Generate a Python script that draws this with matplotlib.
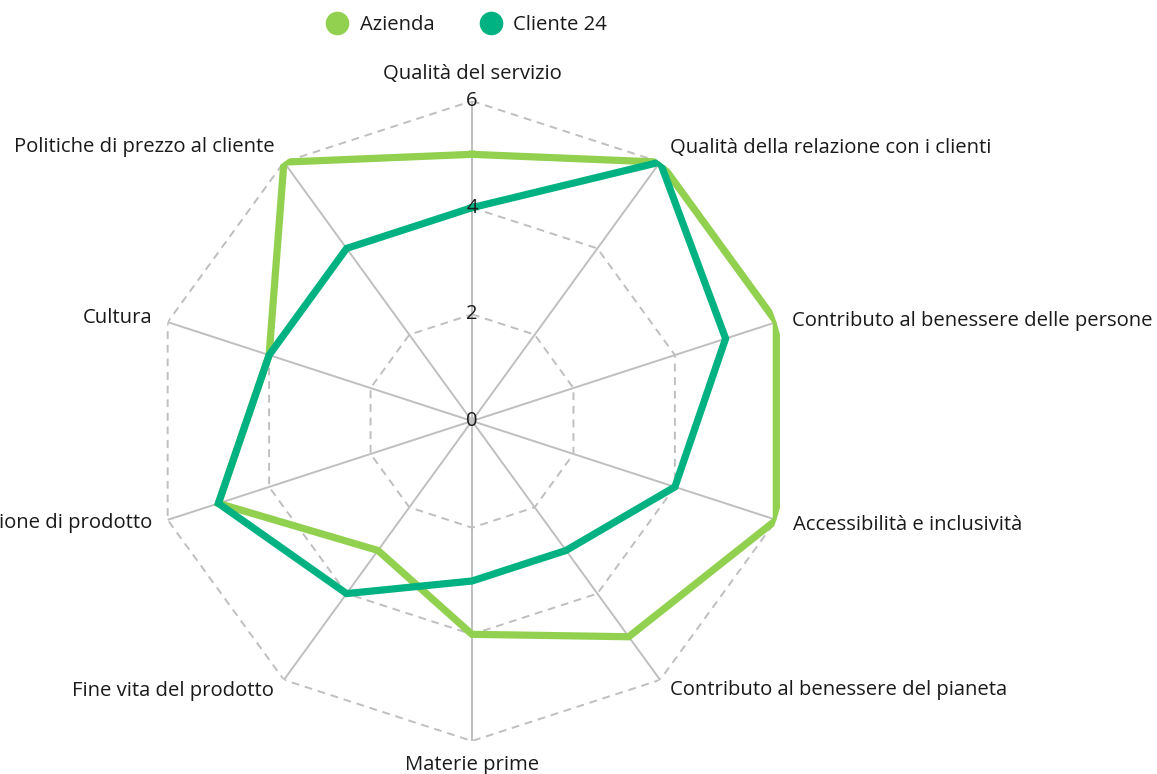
import numpy as np
import matplotlib
matplotlib.use("Agg")
import matplotlib.pyplot as plt
from matplotlib.lines import Line2D

plt.rcParams['font.family'] = ['Open Sans', 'DejaVu Sans']

categories = [
    "Qualità del servizio",
    "Qualità della relazione con i clienti",
    "Contributo al benessere delle persone",
    "Accessibilità e inclusività",
    "Contributo al benessere del pianeta",
    "Materie prime",
    "Fine vita del prodotto",
    "Progettazione di prodotto",
    "Cultura",
    "Politiche di prezzo al cliente",
]
azienda = [5, 6, 6, 6, 5, 4, 3, 5, 4, 6]
cliente = [4, 6, 5, 4, 3, 3, 4, 5, 4, 4]
series_names = ["Azienda", "Cliente 24"]
ring_ticks = [0, 2, 4, 6]

col_az = "#92D050"
col_cl = "#00B281"
grid_col = "#BFBFBF"
txt_col = "#1A1A1A"

W, H = 1157, 774
fig = plt.figure(figsize=(W / 100, H / 100), dpi=100)
cx, cy, R = 472, 421, 320
ax = fig.add_axes([(cx - R) / W, (H - cy - R) / H, 2 * R / W, 2 * R / H], projection='polar')
ax.set_theta_zero_location('N')
ax.set_theta_direction(-1)
ax.set_ylim(0, 6)
ax.grid(False)
ax.spines['polar'].set_visible(False)
ax.set_xticks([])
ax.set_yticks([])
ax.patch.set_alpha(0)

n = len(categories)
angles = np.linspace(0, 2 * np.pi, n, endpoint=False)
closed = np.append(angles, angles[0])

# spokes
for a in angles:
    ax.plot([a, a], [0, 6], color=grid_col, lw=1.4, zorder=1)
# rings
for r in ring_ticks[1:]:
    ax.plot(closed, [r] * (n + 1), color=grid_col, lw=1.4, ls=(0, (4, 3)), zorder=1)

def close(v):
    return list(v) + [v[0]]

ax.plot(closed, close(azienda), color=col_az, lw=5.2, zorder=3, solid_joinstyle='miter')
ax.plot(closed, close(cliente), color=col_cl, lw=5.2, zorder=4, solid_joinstyle='miter')

for r in ring_ticks:
    ax.text(0, r, str(r), ha='center', va='center', fontsize=14.5, color=txt_col, zorder=6)

offsets = [
    (0, 27, 'center'),
    (10, 14, 'left'),
    (16, 1, 'left'),
    (17, -5, 'left'),
    (10, -10, 'left'),
    (0, -24, 'center'),
    (-10, -11, 'right'),
    (-15, -3, 'right'),
    (-15, 4, 'right'),
    (-9, 15, 'right'),
]
for a, lab, (dx, dy, ha) in zip(angles, categories, offsets):
    ax.annotate(lab, xy=(a, 6), xytext=(dx, dy), textcoords='offset pixels',
                ha=ha, va='center', fontsize=14.6, color=txt_col, annotation_clip=False)

handles = [Line2D([], [], ls='none', marker='o', markersize=16, color=c) for c in (col_az, col_cl)]
leg = fig.legend(handles, series_names, loc='center', bbox_to_anchor=(462 / W, 1 - 25 / H),
                 ncol=2, frameon=False, fontsize=14.6, handletextpad=0.1, columnspacing=1.8,
                 labelcolor=txt_col)

fig.savefig("out.png", dpi=100)
